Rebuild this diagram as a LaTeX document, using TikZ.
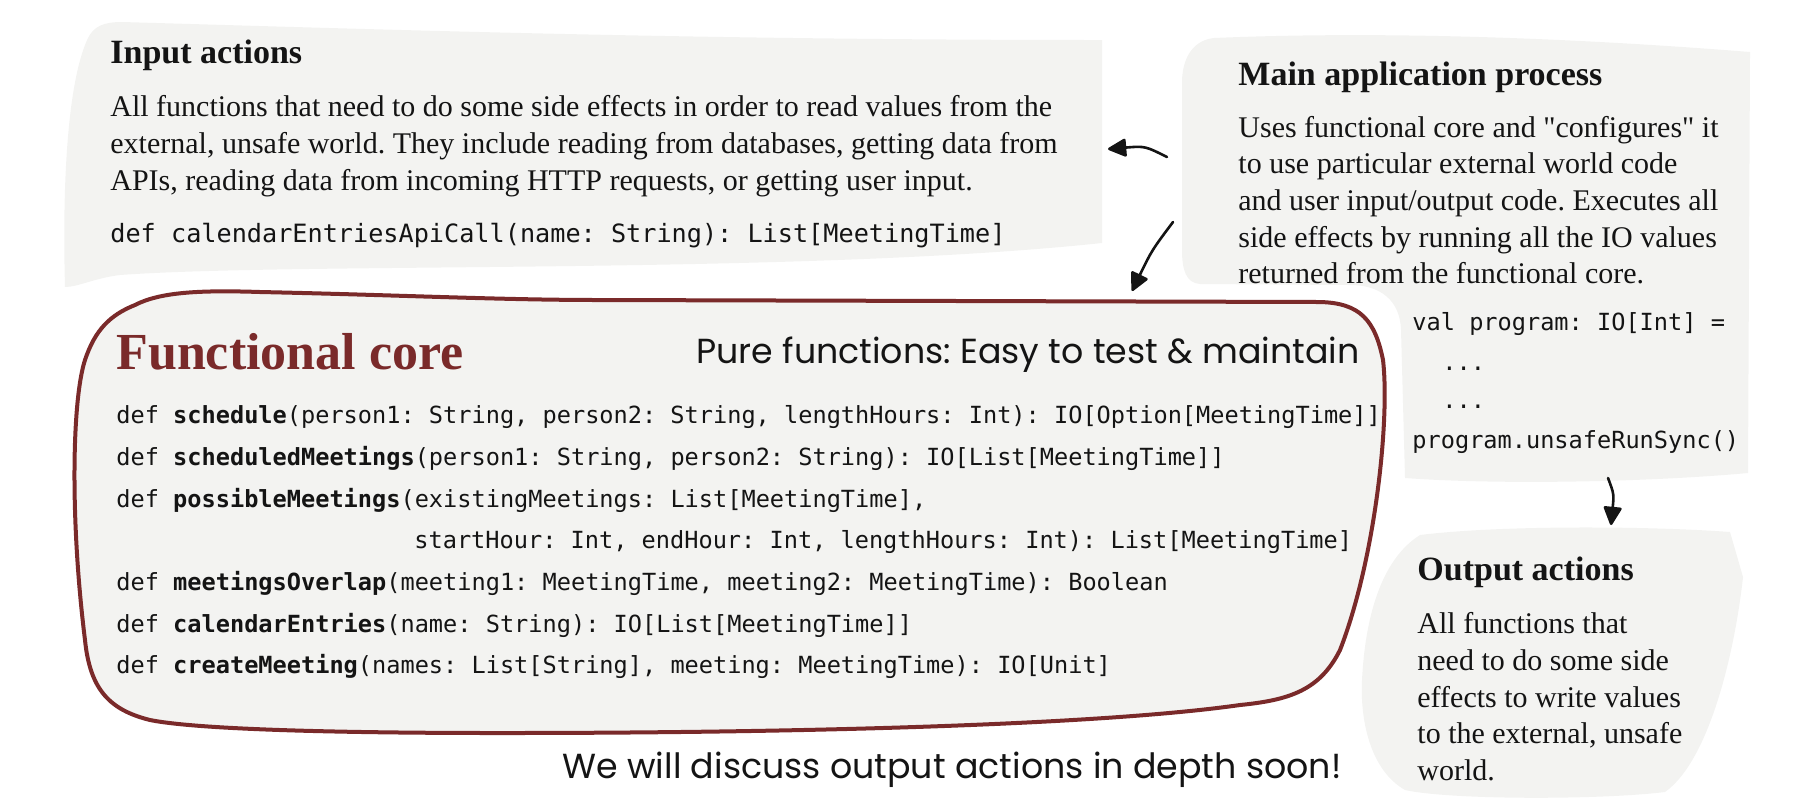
\documentclass[tikz,border=0pt]{standalone}
\usepackage{fontspec}
\setmainfont{Liberation Serif}
\setmonofont{DejaVu Sans Mono}
\newfontfamily\handfont{Poppins}
\usetikzlibrary{arrows.meta}
\frenchspacing

\begin{document}
\begin{tikzpicture}[x=0.5pt, y=-0.5pt]

% Colours
\definecolor{boxGray}{HTML}{F3F3F1}
\definecolor{coreRed}{HTML}{7A2A2A}
\definecolor{inkBlack}{HTML}{141414}

\tikzset{
  heading/.style={anchor=base west, inner sep=0pt, text=inkBlack, font=\fontsize{17}{20}\selectfont\bfseries},
  body/.style={anchor=base west, inner sep=0pt, text=inkBlack, font=\fontsize{15}{18}\selectfont},
  code/.style={anchor=base west, inner sep=0pt, text=inkBlack, font=\ttfamily\fontsize{11.8}{14}\selectfont},
  hand/.style={inner sep=0pt, text=inkBlack, font=\handfont\fontsize{17.4}{20}\selectfont},
  arr/.style={draw=inkBlack, line width=1.3pt, line cap=round, -{Triangle[length=10pt, width=9.5pt, round]}}
}

\useasboundingbox (0,0) rectangle (1818,810);

% Input actions (top left)
\fill[boxGray] (65,287) .. controls (62,180) and (68,80) .. (88,38)
  .. controls (94,26) and (104,22) .. (122,22)
  .. controls (400,30) and (700,40) .. (1102,40) -- (1102,243)
  .. controls (800,275) and (300,262) .. (120,275)
  .. controls (95,278) and (78,287) .. (65,287) -- cycle;

\node[heading] (inTitle) at (110,63) {Input actions};
\node[body] (in1) at (110,116) {All functions that need to do some side effects in order to read values from the};
\node[body] (in2) at (110,153) {external, unsafe world. They include reading from databases, getting data from};
\node[body] (in3) at (110,190) {APIs, reading data from incoming HTTP requests, or getting user input.};
\node[code, font=\ttfamily\fontsize{12.6}{15}\selectfont] (inCode) at (110,242) {def calendarEntriesApiCall(name: String): List[MeetingTime]};

% Main application process (top right)
\fill[boxGray] (1214,38) .. controls (1400,30) and (1600,40) .. (1750,52)
  -- (1748,473) .. controls (1650,482) and (1500,485) .. (1405,478)
  -- (1401,330) .. controls (1400,300) and (1380,285) .. (1350,285)
  -- (1200,284) .. controls (1186,283) and (1182,270) .. (1182,250)
  -- (1182,80) .. controls (1183,55) and (1195,40) .. (1214,38) -- cycle;

\node[heading] (mainTitle) at (1238,85) {Main application process};
\node[body] (main1) at (1238,137) {Uses functional core and \textquotedbl configures\textquotedbl{} it};
\node[body] (main2) at (1238,173) {to use particular external world code};
\node[body] (main3) at (1238,210) {and user input/output code. Executes all};
\node[body] (main4) at (1238,247) {side effects by running all the IO values};
\node[body] (main5) at (1238,283) {returned from the functional core.};
\node[code] (prog1) at (1412,330) {val program: IO[Int] =};
\node[code] (prog2) at (1442,370) {...};
\node[code] (prog3) at (1442,408) {...};
\node[code] (prog4) at (1412,448) {program.unsafeRunSync()};

% Output actions (bottom right)
\fill[boxGray] (1420,535) .. controls (1500,525) and (1650,526) .. (1730,532)
  -- (1743,577) .. controls (1735,650) and (1710,760) .. (1665,792)
  .. controls (1600,800) and (1450,800) .. (1405,790)
  .. controls (1370,770) and (1360,720) .. (1362,680)
  .. controls (1365,620) and (1380,560) .. (1420,535) -- cycle;

\node[heading] (outTitle) at (1417,580) {Output actions};
\node[body] (out1) at (1417,633) {All functions that};
\node[body] (out2) at (1417,670) {need to do some side};
\node[body] (out3) at (1417,707) {effects to write values};
\node[body] (out4) at (1417,743) {to the external, unsafe};
\node[body] (out5) at (1417,780) {world.};

% Functional core
\filldraw[fill=boxGray, draw=coreRed, line width=2pt]
  (135,305) .. controls (160,292) and (200,290) .. (260,292)
  .. controls (400,295) and (500,300) .. (600,300) -- (1320,302)
  .. controls (1360,303) and (1375,320) .. (1383,360)
  .. controls (1390,420) and (1375,560) .. (1340,650)
  .. controls (1320,690) and (1290,700) .. (1240,705)
  .. controls (1100,725) and (800,733) .. (500,733)
  .. controls (350,733) and (200,730) .. (150,720)
  .. controls (110,710) and (90,690) .. (85,640)
  .. controls (70,520) and (72,400) .. (85,360)
  .. controls (95,330) and (110,315) .. (135,305) -- cycle;

\node[anchor=base west, inner sep=0pt, text=coreRed, font=\fontsize{26}{30}\selectfont\bfseries] (coreTitle) at (116,369) {Functional core};
\node[hand, anchor=base east] (pure) at (1360,363) {Pure functions: Easy to test \& maintain};

\node[code] (c1) at (116,423) {def \textbf{schedule}(person1: String, person2: String, lengthHours: Int): IO[Option[MeetingTime]]};
\node[code] (c2) at (116,465) {def \textbf{scheduledMeetings}(person1: String, person2: String): IO[List[MeetingTime]]};
\node[code] (c3) at (116,507) {def \textbf{possibleMeetings}(existingMeetings: List[MeetingTime],};
\node[code] (c4) at (414,548) {startHour: Int, endHour: Int, lengthHours: Int): List[MeetingTime]};
\node[code] (c5) at (116,590) {def \textbf{meetingsOverlap}(meeting1: MeetingTime, meeting2: MeetingTime): Boolean};
\node[code] (c6) at (116,632) {def \textbf{calendarEntries}(name: String): IO[List[MeetingTime]]};
\node[code] (c7) at (116,673) {def \textbf{createMeeting}(names: List[String], meeting: MeetingTime): IO[Unit]};

% Note below
\node[hand, anchor=base] (soon) at (952,778) {We will discuss output actions in depth soon!};

% Arrows
\coordinate (mainL) at (1167,157);
\coordinate (inR) at (1108,149);
\coordinate (mainLow) at (1173,222);
\coordinate (coreTop) at (1132,291);
\coordinate (mainBot) at (1608,478);
\coordinate (outTop) at (1611,525);

\draw[arr] (mainL) .. controls (1145,146) .. (inR);
\draw[arr] (mainLow) .. controls (1152,250) .. (coreTop);
\draw[arr] (mainBot) .. controls (1614,494) .. (outTop);

\end{tikzpicture}
\end{document}
